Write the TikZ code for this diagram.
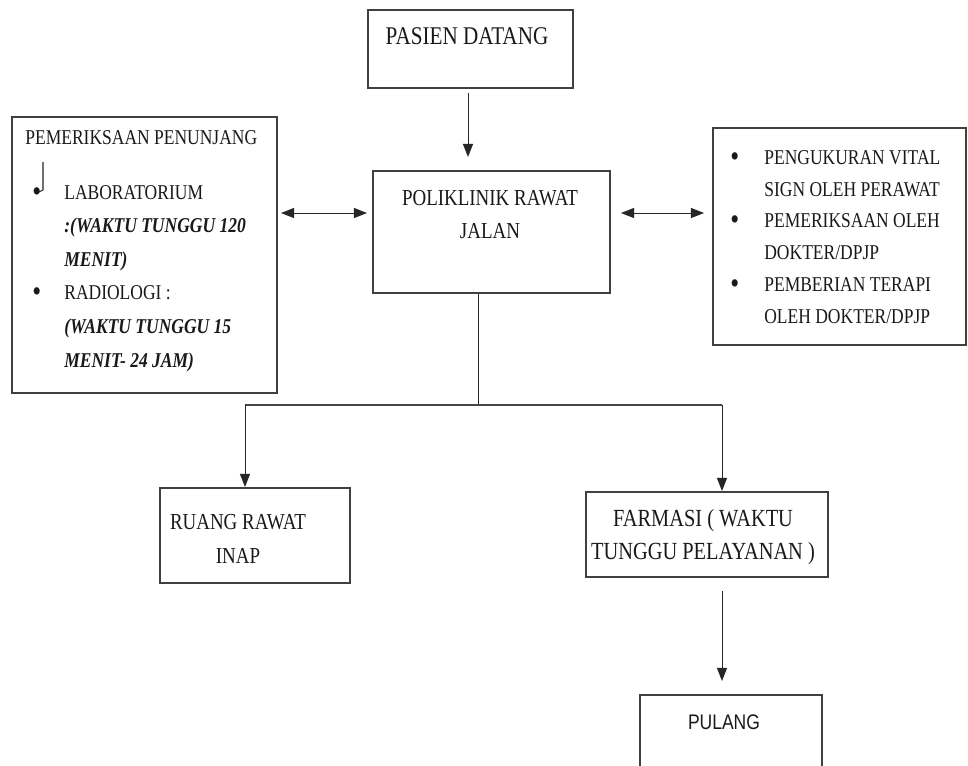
\documentclass[tikz,border=0pt]{standalone}
\usepackage{fontspec}
\setmainfont[FakeStretch=0.83]{Liberation Serif}
\newfontfamily\pulangfont[FakeStretch=0.83]{Liberation Sans}
\usetikzlibrary{arrows.meta, positioning}

\tikzset{
  box/.style={draw=gray!50!black, line width=1.2pt, rectangle, inner sep=0pt},
  lbl/.style={inner sep=0pt, text=black!90},
  arr/.style={-{Triangle[length=0.26cm, width=0.2cm]}, line width=0.55pt, draw=black!85},
  dblarr/.style={{Triangle[length=0.26cm, width=0.2cm]}-{Triangle[length=0.26cm, width=0.2cm]}, line width=0.55pt, draw=black!85},
}
\newcommand{\bul}[1]{\makebox[#1][l]{\raisebox{-0.08em}{\scalebox{1.45}{\textbullet}}}}

\begin{document}
\begin{tikzpicture}[x=0.02cm, y=-0.02cm]
  \path[use as bounding box] (0,0) rectangle (968,765);
  \clip (0,0) rectangle (968,765);
  \fill[white] (0,0) rectangle (968,765);

  % boxes
  \node[box, minimum width=4.1cm, minimum height=1.56cm] (pasien) at (470.5,49) {};
  \node[box, minimum width=4.74cm, minimum height=2.44cm] (poli) at (491.5,232) {};
  \node[box, minimum width=5.3cm, minimum height=5.52cm] (penunjang) at (144.5,255) {};
  \node[box, minimum width=5.06cm, minimum height=4.34cm] (tindakan) at (839.5,236.5) {};
  \node[box, minimum width=3.8cm, minimum height=1.9cm] (ruang) at (255,535.5) {};
  \node[box, minimum width=4.84cm, minimum height=1.7cm] (farmasi) at (707,534.5) {};
  \node[box, minimum width=3.64cm, minimum height=1.9cm] (pulang) at (731,742.5) {};

  % texts
  \node[lbl, font=\fontsize{14.5pt}{18pt}\selectfont] (pasientxt) at (467,36) {PASIEN DATANG};
  \node[lbl, anchor=north, align=center, font=\fontsize{13pt}{18.7pt}\selectfont] (politxt) at (490,190) {POLIKLINIK RAWAT\\JALAN};
  \node[lbl, anchor=west, font=\fontsize{12pt}{15pt}\selectfont] (penunjanghead) at (25,138) {PEMERIKSAAN PENUNJANG};
  \node[lbl, anchor=north west, align=left, font=\fontsize{12pt}{19.1pt}\selectfont] (penunjanglist) at (32,185) {%
    \bul{0.64cm}LABORATORIUM\\
    \hspace*{0.64cm}\textbf{\textit{:(WAKTU TUNGGU 120}}\\
    \hspace*{0.64cm}\textbf{\textit{MENIT)}}\\
    \bul{0.64cm}RADIOLOGI :\\
    \hspace*{0.64cm}\textbf{\textit{(WAKTU TUNGGU 15}}\\
    \hspace*{0.64cm}\textbf{\textit{MENIT- 24 JAM)}}};
  \draw[line width=0.6pt, black!85] (43,162) -- (43,190) -- (39,192);
  \node[lbl, anchor=north west, align=left, font=\fontsize{12pt}{18.1pt}\selectfont] (tindakanlist) at (730,150) {%
    \bul{0.68cm}PENGUKURAN VITAL\\
    \hspace*{0.68cm}SIGN OLEH PERAWAT\\
    \bul{0.68cm}PEMERIKSAAN OLEH\\
    \hspace*{0.68cm}DOKTER/DPJP\\
    \bul{0.68cm}PEMBERIAN TERAPI\\
    \hspace*{0.68cm}OLEH DOKTER/DPJP};
  \node[lbl, anchor=north, align=center, font=\fontsize{13pt}{19.3pt}\selectfont] (ruangtxt) at (238,514) {RUANG RAWAT\\INAP};
  \node[lbl, anchor=north, align=center, font=\fontsize{14pt}{18.7pt}\selectfont] (farmasitxt) at (703,509) {FARMASI ( WAKTU\\TUNGGU PELAYANAN )};
  \node[lbl, font=\pulangfont\fontsize{12pt}{15pt}\selectfont] (pulangtxt) at (724,722) {PULANG};

  % connectors
  \coordinate (split) at (478,405);
  \coordinate (leftdrop) at (245,405);
  \coordinate (rightdrop) at (722,405);
  \draw[arr, shorten <=0.08cm, shorten >=0.26cm] ([xshift=-0.05cm]pasien.south) -- ([xshift=-0.05cm]pasien.south |- poli.north);
  \draw[dblarr, shorten <=0.06cm, shorten >=0.1cm] ([yshift=0.38cm]penunjang.east |- poli.west) -- ([yshift=0.38cm]poli.west);
  \draw[dblarr, shorten <=0.2cm, shorten >=0.16cm] ([yshift=0.38cm]poli.east) -- ([yshift=0.38cm]poli.east -| tindakan.west);
  \draw[line width=0.55pt, draw=black!85] (split |- poli.south) -- (split);
  \draw[line width=0.9pt, draw=gray!55!black] (leftdrop) -- (rightdrop);
  \draw[arr] (leftdrop) -- (leftdrop |- ruang.north);
  \draw[arr] (rightdrop) -- (rightdrop |- farmasi.north);
  \draw[arr, shorten <=0.26cm, shorten >=0.26cm] (rightdrop |- farmasi.south) -- (rightdrop |- pulang.north);
\end{tikzpicture}
\end{document}
